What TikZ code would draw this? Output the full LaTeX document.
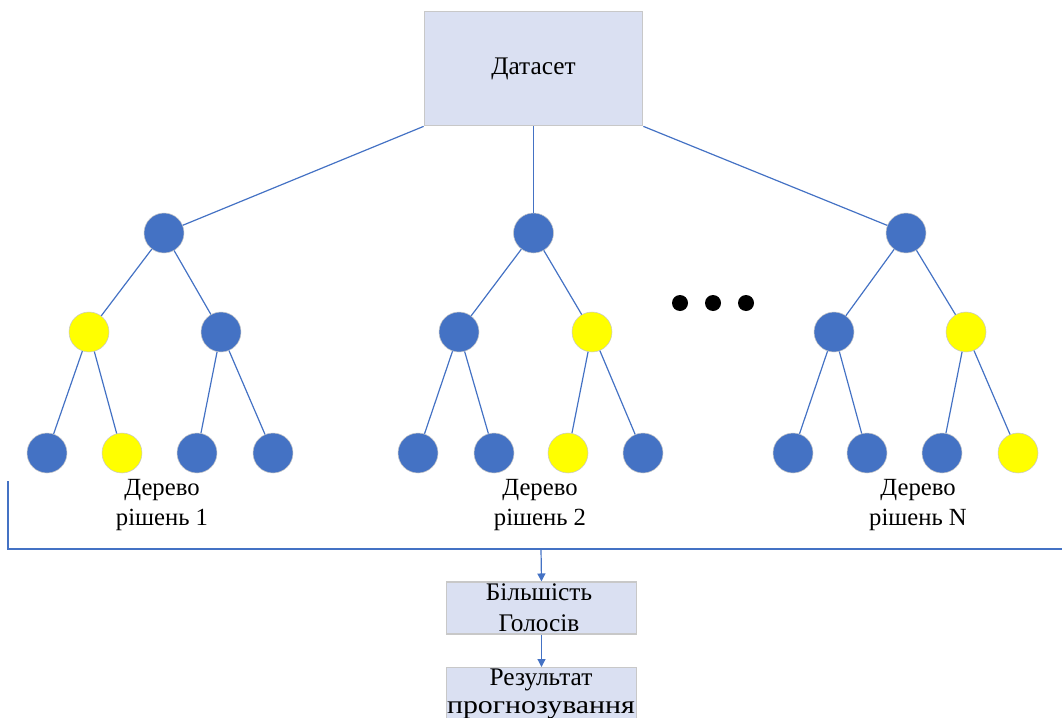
\documentclass[tikz,border=0pt]{standalone}
\usepackage{fontspec}
\setmainfont{Liberation Serif}
\usetikzlibrary{arrows.meta}
\definecolor{nodeblue}{HTML}{4472C4}
\definecolor{leafyellow}{HTML}{FFFF00}
\definecolor{boxfill}{HTML}{DAE0F2}
\definecolor{boxedge}{HTML}{C8C8C8}
\begin{document}
\begin{tikzpicture}[x=0.75pt,y=-0.75pt,
  link/.style={draw=nodeblue,line width=0.9pt},
  bnode/.style={circle,fill=nodeblue,draw=boxedge,line width=0.4pt,minimum size=30pt,inner sep=0pt},
  ynode/.style={circle,fill=leafyellow,draw=boxedge,line width=0.4pt,minimum size=30pt,inner sep=0pt},
  dotnode/.style={circle,fill=black,minimum size=12pt,inner sep=0pt},
  infobox/.style={draw=boxedge,fill=boxfill,line width=0.8pt,inner sep=0pt,align=center},
  treelabel/.style={font=\fontsize{18.5}{22}\selectfont,align=center,inner sep=0pt,anchor=base},
  flow/.style={link,-{Triangle[length=6pt,width=6pt]}}]
\useasboundingbox (0,0) rectangle (1062,717);

% dataset box
\node[infobox,minimum width=164pt,minimum height=86pt,font=\fontsize{19}{22}\selectfont] (data) at (533.5,68.5) {Датасет};

% tree 1
\node[bnode] (a0) at (164,233) {};
\node[ynode] (a1) at (89,332) {};
\node[bnode] (a2) at (221,332) {};
\node[bnode] (a3) at (47,453) {};
\node[ynode] (a4) at (122,453) {};
\node[bnode] (a5) at (197,453) {};
\node[bnode] (a6) at (273,453) {};

% tree 2
\node[bnode] (b0) at (533.5,233) {};
\node[bnode] (b1) at (459,332) {};
\node[ynode] (b2) at (592,332) {};
\node[bnode] (b3) at (418,453) {};
\node[bnode] (b4) at (494,453) {};
\node[ynode] (b5) at (568,453) {};
\node[bnode] (b6) at (643,453) {};

% tree N
\node[bnode] (c0) at (906,233) {};
\node[bnode] (c1) at (834,332) {};
\node[ynode] (c2) at (966,332) {};
\node[bnode] (c3) at (793,453) {};
\node[bnode] (c4) at (867,453) {};
\node[bnode] (c5) at (942,453) {};
\node[ynode] (c6) at (1018,453) {};

% ellipsis between trees
\node[dotnode] (d1) at (680,303) {};
\node[dotnode] (d2) at (713,303) {};
\node[dotnode] (d3) at (746,303) {};

% tree captions (anchored on the baseline of the last line)
\node[treelabel] (la) at (162,525) {Дерево\\рішень 1};
\node[treelabel] (lb) at (540,525) {Дерево\\рішень 2};
\node[treelabel] (lc) at (918,525) {Дерево\\рішень N};

% edges from dataset to tree roots
\draw[link] (data.south west) -- (a0);
\draw[link] (data.south) -- (b0);
\draw[link] (data.south east) -- (c0);

% tree edges
\foreach \t in {a,b,c}{
  \draw[link] (\t0) -- (\t1);
  \draw[link] (\t0) -- (\t2);
  \draw[link] (\t1) -- (\t3);
  \draw[link] (\t1) -- (\t4);
  \draw[link] (\t2) -- (\t5);
  \draw[link] (\t2) -- (\t6);
}

% collecting bracket under all trees
\coordinate (bs) at (8,481);
\coordinate (bc) at (8,549);
\coordinate (be) at (1062,549);
\coordinate (bm) at (541,549);
\draw[link] (bs) -- (bc) -- (be);

% voting and result
\node[infobox,minimum width=143pt,minimum height=39pt] (vote) at (541.5,608) {};
\node[font=\fontsize{19}{23}\selectfont,align=center,inner sep=0pt,anchor=base] (votetext) at (539,631) {Більшість\\Голосів};
\node[infobox,minimum width=143pt,minimum height=40pt,anchor=north] (res) at (541.5,667) {};
\node[font=\fontsize{19}{21}\selectfont,align=center,inner sep=0pt,anchor=base] (restext) at (541,713)
  {Результат\\{\addfontfeature{FakeStretch=1.18}прогнозування}};

\draw[flow] (bm) -- (vote.north);
\draw[flow] (vote.south) -- (res.north);
\end{tikzpicture}
\end{document}
